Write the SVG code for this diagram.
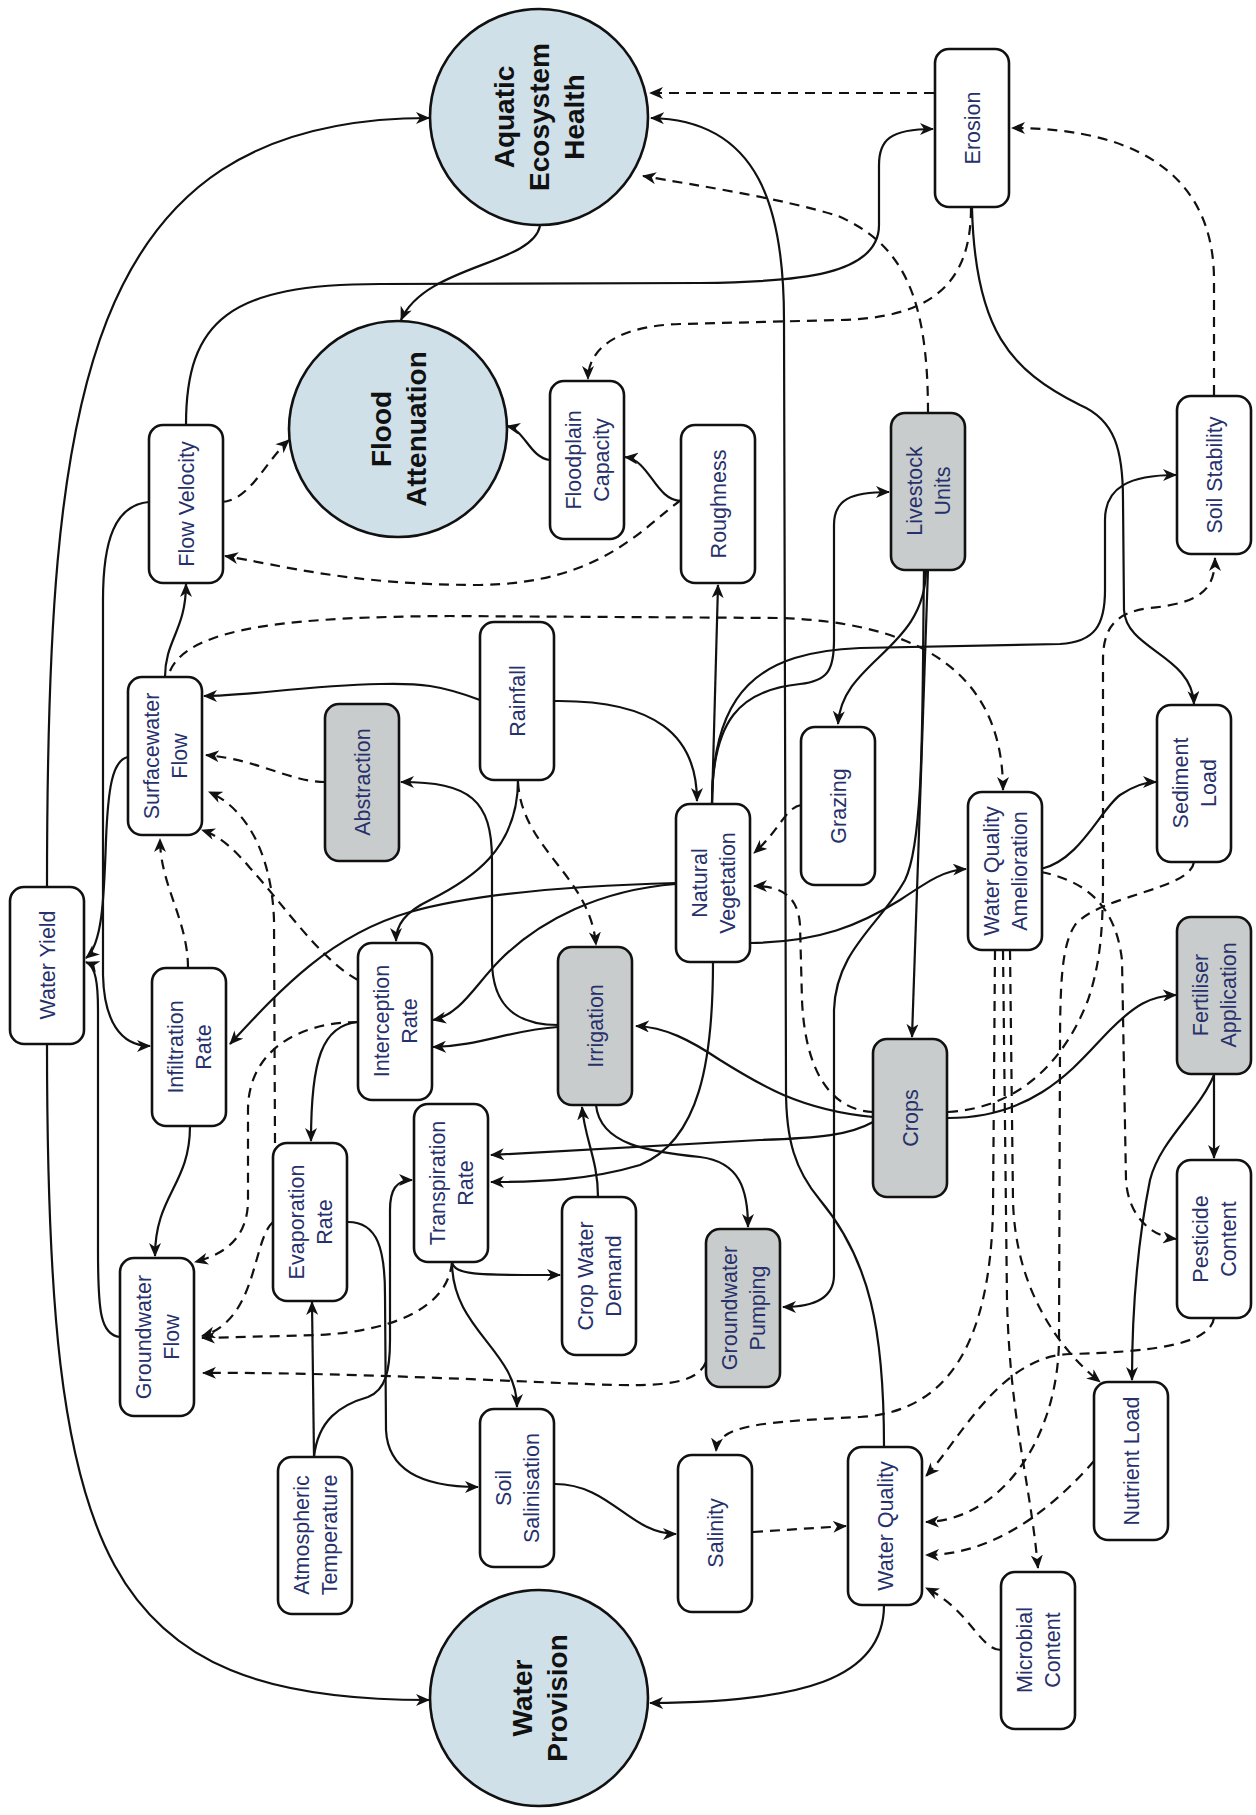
<svg xmlns="http://www.w3.org/2000/svg" width="1256" height="1815" viewBox="0 0 1256 1815">
<style>
.bg{fill:#fff}
.n rect{fill:#fff;stroke:#111;stroke-width:2.6}
.n.g rect{fill:#c8cccc}
.c ellipse{fill:#cfe0e8;stroke:#111;stroke-width:2.6}
text{font-family:"Liberation Sans",Arial,sans-serif;text-anchor:middle}
.l{font-size:21.5px;fill:#26306a}
.b{font-size:28px;font-weight:bold;fill:#111}
.e path{fill:none;stroke:#111;stroke-width:2.2;marker-end:url(#a)}
.e path.d{stroke-dasharray:10 7}
</style>
<defs>
<marker id="a" viewBox="0 0 14 12" refX="13" refY="6" markerWidth="14" markerHeight="12" markerUnits="userSpaceOnUse" orient="auto">
<path d="M0,0 L14,6 L0,12 L4,6 Z" fill="#111"/>
</marker>
</defs>
<rect class="bg" x="0" y="0" width="1256" height="1815"/>
<g class="e" id="connectors">
<path d="M47,887 C47,400 80,118 429,118"/>
<path d="M47,1044 C47,1560 100,1700 429,1700"/>
<path d="M540,226 C532,265 425,265 401,320"/>
<path d="M186,425 C186,320 230,284 380,284 L700,283 C800,282 879,275 879,225 L879,165 C879,140 890,129 933,129"/>
<path class="d" d="M934,93 L650,93"/>
<path class="d" d="M928,413 C928,300 905,245 838,216 C780,198 700,186 643,176"/>
<path class="d" d="M971,208 C971,285 930,318 840,320 L680,324 C615,326 588,350 588,379"/>
<path d="M972,208 C975,330 1010,370 1080,405 C1115,420 1123,450 1123,500 L1124,610 C1126,650 1192,655 1194,704"/>
<path class="d" d="M1214,395 L1214,280 C1214,185 1150,128 1012,128"/>
<path d="M712,804 C712,690 760,652 860,648 L1060,644 C1095,642 1105,625 1105,590 L1105,520 C1105,487 1130,475 1176,475"/>
<path d="M712,804 C712,720 740,690 800,684 C828,681 834,670 834,640 L834,525 C834,500 850,492 889,492"/>
<path d="M712,804 L718,585"/>
<path d="M555,701 C655,700 697,735 697,801"/>
<path d="M480,700 C440,685 420,683 380,684 C300,686 250,696 204,696"/>
<path d="M518,780 C518,850 470,880 430,900 C405,912 396,925 396,941"/>
<path class="d" d="M518,782 C522,850 590,875 596,945"/>
<path d="M558,1025 C510,1025 492,1000 492,960 L492,860 C492,800 470,782 401,782"/>
<path d="M558,1027 C510,1030 480,1046 433,1047"/>
<path d="M676,884 C600,890 540,920 500,960 C475,985 460,1015 433,1020"/>
<path d="M676,883 C560,886 470,895 410,912 C330,935 280,990 230,1044"/>
<path d="M750,943 C820,942 860,925 900,900 C930,880 945,870 966,869"/>
<path d="M713,962 C713,1060 700,1140 640,1165 C590,1180 540,1182 491,1182"/>
<path d="M873,1122 C850,1135 820,1138 760,1140 L491,1155"/>
<path d="M873,1117 C800,1110 760,1085 720,1060 C690,1040 665,1027 636,1026"/>
<path class="d" d="M873,1112 C830,1110 805,1070 802,1000 L800,925 C798,895 780,886 754,886"/>
<path class="d" d="M801,805 C785,808 780,830 754,853"/>
<path d="M926,569 C926,650 842,660 838,724"/>
<path d="M928,569 L912,1037"/>
<path d="M924,569 C922,700 925,840 905,880 C880,925 836,950 834,1010 L834,1275 C834,1298 815,1307 783,1307"/>
<path d="M596,1105 C600,1145 650,1152 700,1157 C740,1162 748,1190 748,1227"/>
<path d="M598,1197 C598,1160 585,1140 582,1107"/>
<path d="M884,1446 C884,1330 870,1260 820,1200 C795,1170 786,1140 786,1090 L784,320 C784,210 760,120 651,118"/>
<path d="M884,1605 C884,1680 800,1702 650,1703"/>
<path class="d" d="M753,1532 L846,1526"/>
<path d="M555,1484 C610,1484 630,1534 676,1534"/>
<path d="M452,1262 C452,1330 517,1350 517,1407"/>
<path d="M452,1262 C455,1276 480,1275 560,1275"/>
<path d="M348,1222 C378,1222 385,1250 385,1295 L386,1430 C388,1472 425,1487 478,1487"/>
<path d="M314,1457 L312,1302"/>
<path d="M314,1457 C318,1420 340,1405 368,1397 C386,1390 390,1370 390,1340 L390,1210 C390,1190 396,1180 412,1180"/>
<path d="M358,1022 C322,1025 311,1060 311,1141"/>
<path d="M190,1126 C190,1185 155,1195 155,1256"/>
<path class="d" d="M358,1022 C300,1022 248,1050 248,1110 L248,1200 C248,1240 222,1255 195,1262"/>
<path class="d" d="M273,1222 C252,1240 258,1320 202,1336"/>
<path class="d" d="M452,1262 C448,1305 400,1330 320,1335 L202,1338"/>
<path class="d" d="M706,1362 C695,1390 640,1386 560,1383 C450,1378 300,1372 203,1373"/>
<path d="M120,1337 C100,1335 98,1310 98,1250 L98,1010 C98,985 96,966 86,962"/>
<path d="M128,757 C112,760 108,790 106,840 C104,900 102,945 86,958"/>
<path d="M149,502 C115,505 103,540 103,600 L103,975 C104,1020 120,1046 150,1046"/>
<path d="M165,677 C165,640 186,630 186,584"/>
<path class="d" d="M170,671 C190,625 300,617 450,616 L780,618 C900,622 1003,660 1003,790"/>
<path class="d" d="M325,782 C290,782 260,760 206,755"/>
<path class="d" d="M275,1143 L274,920 C272,860 250,810 209,792"/>
<path class="d" d="M358,980 C320,960 280,900 250,868 C235,850 220,836 202,830"/>
<path class="d" d="M188,968 C188,920 160,885 160,839"/>
<path class="d" d="M222,502 C250,500 265,462 289,440"/>
<path class="d" d="M681,500 C640,530 600,583 480,585 C350,585 280,565 225,556"/>
<path d="M681,501 C655,500 650,460 625,457"/>
<path d="M550,460 C530,458 525,430 507,426"/>
<path d="M948,1118 C1040,1118 1080,1060 1110,1030 C1135,1005 1150,996 1176,995"/>
<path class="d" d="M948,1112 C1020,1108 1065,1060 1088,1000 C1100,965 1103,930 1103,880 L1103,660 C1103,625 1118,612 1150,608 C1200,603 1215,590 1215,558"/>
<path d="M1214,1074 L1214,1158"/>
<path d="M1214,1075 C1200,1110 1160,1140 1150,1180 C1140,1230 1132,1300 1132,1380"/>
<path d="M1041,869 C1080,860 1100,810 1120,795 C1135,785 1145,782 1156,782"/>
<path class="d" d="M1041,872 C1080,880 1115,900 1122,960 L1126,1180 C1128,1215 1150,1236 1176,1239"/>
<path class="d" d="M1194,862 C1190,890 1100,895 1075,925 C1062,945 1060,980 1060,1050 L1059,1340 C1058,1440 1000,1520 926,1522"/>
<path class="d" d="M995,950 L993,1210 C990,1340 950,1412 860,1417 C760,1422 718,1425 716,1451"/>
<path class="d" d="M1003,950 L1007,1300 C1010,1420 1030,1480 1038,1568"/>
<path class="d" d="M1010,950 L1013,1200 C1015,1290 1060,1350 1100,1382"/>
<path class="d" d="M1214,1318 C1210,1345 1150,1352 1070,1354 C1000,1356 960,1440 926,1476"/>
<path class="d" d="M1094,1461 C1060,1500 1000,1555 926,1555"/>
<path class="d" d="M1001,1650 C980,1650 970,1610 926,1588"/>
</g>
<g class="c" id="aquatic-ecosystem-health"><ellipse cx="539" cy="117" rx="109" ry="108"/><text class="b" transform="translate(539,117) rotate(-90)"><tspan x="0" y="-25">Aquatic</tspan><tspan x="0" y="10">Ecosystem</tspan><tspan x="0" y="45">Health</tspan></text></g>
<g class="c" id="flood-attenuation"><ellipse cx="398" cy="429" rx="109" ry="108"/><text class="b" transform="translate(398,429) rotate(-90)"><tspan x="0" y="-7.5">Flood</tspan><tspan x="0" y="27.5">Attenuation</tspan></text></g>
<g class="c" id="water-provision"><ellipse cx="539" cy="1698" rx="109" ry="108"/><text class="b" transform="translate(539,1698) rotate(-90)"><tspan x="0" y="-7.5">Water</tspan><tspan x="0" y="27.5">Provision</tspan></text></g>
<g class="n" id="erosion"><rect x="935" y="49" width="74" height="158" rx="14"/><text class="l" transform="translate(972,128) rotate(-90)" y="7.5">Erosion</text></g>
<g class="n" id="flow-velocity"><rect x="149" y="425" width="74" height="158" rx="14"/><text class="l" transform="translate(186,504) rotate(-90)" y="7.5">Flow Velocity</text></g>
<g class="n" id="floodplain-capacity"><rect x="550" y="381" width="74" height="158" rx="14"/><text class="l" transform="translate(587,460) rotate(-90)"><tspan x="0" y="-6.5">Floodplain</tspan><tspan x="0" y="21.5">Capacity</tspan></text></g>
<g class="n" id="roughness"><rect x="681" y="425" width="74" height="158" rx="14"/><text class="l" transform="translate(718,504) rotate(-90)" y="7.5">Roughness</text></g>
<g class="n g" id="livestock-units"><rect x="891" y="413" width="74" height="157" rx="14"/><text class="l" transform="translate(928,491) rotate(-90)"><tspan x="0" y="-6.5">Livestock</tspan><tspan x="0" y="21.5">Units</tspan></text></g>
<g class="n" id="soil-stability"><rect x="1177" y="396" width="74" height="158" rx="14"/><text class="l" transform="translate(1214,475) rotate(-90)" y="7.5">Soil Stability</text></g>
<g class="n" id="surfacewater-flow"><rect x="128" y="677" width="74" height="158" rx="14"/><text class="l" transform="translate(165,756) rotate(-90)"><tspan x="0" y="-6.5">Surfacewater</tspan><tspan x="0" y="21.5">Flow</tspan></text></g>
<g class="n g" id="abstraction"><rect x="325" y="704" width="74" height="157" rx="14"/><text class="l" transform="translate(362,782) rotate(-90)" y="7.5">Abstraction</text></g>
<g class="n" id="rainfall"><rect x="480" y="622" width="74" height="158" rx="14"/><text class="l" transform="translate(517,701) rotate(-90)" y="7.5">Rainfall</text></g>
<g class="n" id="natural-vegetation"><rect x="676" y="804" width="74" height="158" rx="14"/><text class="l" transform="translate(713,883) rotate(-90)"><tspan x="0" y="-6.5">Natural</tspan><tspan x="0" y="21.5">Vegetation</tspan></text></g>
<g class="n" id="grazing"><rect x="801" y="727" width="74" height="158" rx="14"/><text class="l" transform="translate(838,806) rotate(-90)" y="7.5">Grazing</text></g>
<g class="n" id="water-quality-amelioration"><rect x="968" y="792" width="74" height="158" rx="14"/><text class="l" transform="translate(1005,871) rotate(-90)"><tspan x="0" y="-6.5">Water Quality</tspan><tspan x="0" y="21.5">Amelioration</tspan></text></g>
<g class="n" id="sediment-load"><rect x="1157" y="705" width="74" height="157" rx="14"/><text class="l" transform="translate(1194,783) rotate(-90)"><tspan x="0" y="-6.5">Sediment</tspan><tspan x="0" y="21.5">Load</tspan></text></g>
<g class="n" id="water-yield"><rect x="10" y="887" width="74" height="157" rx="14"/><text class="l" transform="translate(47,965) rotate(-90)" y="7.5">Water Yield</text></g>
<g class="n" id="infiltration-rate"><rect x="152" y="968" width="74" height="158" rx="14"/><text class="l" transform="translate(189,1047) rotate(-90)"><tspan x="0" y="-6.5">Infiltration</tspan><tspan x="0" y="21.5">Rate</tspan></text></g>
<g class="n" id="interception-rate"><rect x="358" y="943" width="74" height="157" rx="14"/><text class="l" transform="translate(395,1021) rotate(-90)"><tspan x="0" y="-6.5">Interception</tspan><tspan x="0" y="21.5">Rate</tspan></text></g>
<g class="n g" id="irrigation"><rect x="558" y="947" width="74" height="158" rx="14"/><text class="l" transform="translate(595,1026) rotate(-90)" y="7.5">Irrigation</text></g>
<g class="n g" id="fertiliser-application"><rect x="1177" y="917" width="74" height="157" rx="14"/><text class="l" transform="translate(1214,995) rotate(-90)"><tspan x="0" y="-6.5">Fertiliser</tspan><tspan x="0" y="21.5">Application</tspan></text></g>
<g class="n g" id="crops"><rect x="873" y="1039" width="74" height="158" rx="14"/><text class="l" transform="translate(910,1118) rotate(-90)" y="7.5">Crops</text></g>
<g class="n" id="evaporation-rate"><rect x="273" y="1143" width="74" height="158" rx="14"/><text class="l" transform="translate(310,1222) rotate(-90)"><tspan x="0" y="-6.5">Evaporation</tspan><tspan x="0" y="21.5">Rate</tspan></text></g>
<g class="n" id="transpiration-rate"><rect x="414" y="1104" width="74" height="158" rx="14"/><text class="l" transform="translate(451,1183) rotate(-90)"><tspan x="0" y="-6.5">Transpiration</tspan><tspan x="0" y="21.5">Rate</tspan></text></g>
<g class="n" id="crop-water-demand"><rect x="562" y="1197" width="74" height="158" rx="14"/><text class="l" transform="translate(599,1276) rotate(-90)"><tspan x="0" y="-6.5">Crop Water</tspan><tspan x="0" y="21.5">Demand</tspan></text></g>
<g class="n" id="pesticide-content"><rect x="1177" y="1160" width="74" height="158" rx="14"/><text class="l" transform="translate(1214,1239) rotate(-90)"><tspan x="0" y="-6.5">Pesticide</tspan><tspan x="0" y="21.5">Content</tspan></text></g>
<g class="n" id="groundwater-flow"><rect x="120" y="1258" width="74" height="158" rx="14"/><text class="l" transform="translate(157,1337) rotate(-90)"><tspan x="0" y="-6.5">Groundwater</tspan><tspan x="0" y="21.5">Flow</tspan></text></g>
<g class="n g" id="groundwater-pumping"><rect x="706" y="1229" width="74" height="158" rx="14"/><text class="l" transform="translate(743,1308) rotate(-90)"><tspan x="0" y="-6.5">Groundwater</tspan><tspan x="0" y="21.5">Pumping</tspan></text></g>
<g class="n" id="atmospheric-temperature"><rect x="278" y="1457" width="74" height="157" rx="14"/><text class="l" transform="translate(315,1535) rotate(-90)"><tspan x="0" y="-6.5">Atmospheric</tspan><tspan x="0" y="21.5">Temperature</tspan></text></g>
<g class="n" id="soil-salinisation"><rect x="480" y="1409" width="74" height="158" rx="14"/><text class="l" transform="translate(517,1488) rotate(-90)"><tspan x="0" y="-6.5">Soil</tspan><tspan x="0" y="21.5">Salinisation</tspan></text></g>
<g class="n" id="salinity"><rect x="678" y="1455" width="74" height="157" rx="14"/><text class="l" transform="translate(715,1533) rotate(-90)" y="7.5">Salinity</text></g>
<g class="n" id="water-quality"><rect x="848" y="1447" width="74" height="158" rx="14"/><text class="l" transform="translate(885,1526) rotate(-90)" y="7.5">Water Quality</text></g>
<g class="n" id="nutrient-load"><rect x="1094" y="1382" width="74" height="158" rx="14"/><text class="l" transform="translate(1131,1461) rotate(-90)" y="7.5">Nutrient Load</text></g>
<g class="n" id="microbial-content"><rect x="1001" y="1572" width="74" height="157" rx="14"/><text class="l" transform="translate(1038,1650) rotate(-90)"><tspan x="0" y="-6.5">Microbial</tspan><tspan x="0" y="21.5">Content</tspan></text></g>
</svg>
